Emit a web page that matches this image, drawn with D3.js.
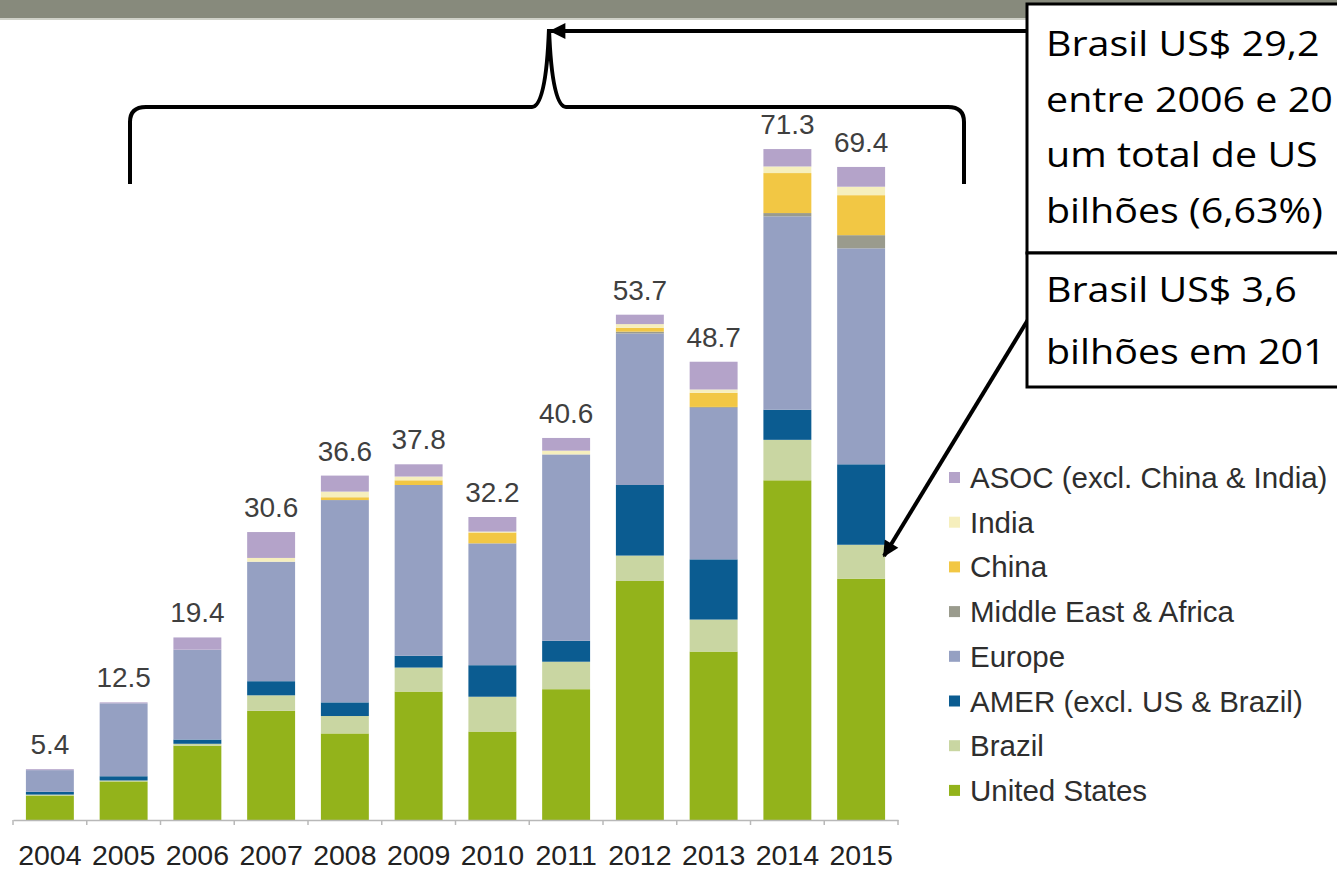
<!DOCTYPE html>
<html>
<head>
<meta charset="utf-8">
<script src="https://cdn.jsdelivr.net/npm/d3@7"></script>
<style>
  body { margin: 0; background: #fff; }
  svg { display: block; }
</style>
</head>
<body>
<div id="chart"></div>
<script>
var years = ['2004', '2005', '2006', '2007', '2008', '2009', '2010', '2011', '2012', '2013', '2014', '2015'];
var totals = [5.4, 12.5, 19.4, 30.6, 36.6, 37.8, 32.2, 40.6, 53.7, 48.7, 71.3, 69.4];

// stacked series, bottom to top (US$ bn)
var unitedStates = [2.6, 4.1, 7.9, 11.6, 9.2, 13.65, 9.4, 13.9, 25.4, 17.9, 36.1, 25.65];
var brazil       = [0.1, 0.1, 0.2, 1.65, 1.85, 2.55, 3.7, 2.92, 2.7, 3.4, 4.3, 3.6];
var amer         = [0.3, 0.45, 0.45, 1.5, 1.45, 1.25, 3.35, 2.23, 7.5, 6.4, 3.2, 8.55];
var europe       = [2.3, 7.75, 9.55, 12.7, 21.5, 18.15, 12.95, 19.8, 16.1, 16.1, 20.55, 22.95];
var middleEast   = [0, 0, 0, 0, 0, 0, 0, 0, 0.2, 0.1, 0.35, 1.4];
var china        = [0, 0, 0, 0, 0.3, 0.5, 1.15, 0, 0.4, 1.5, 4.25, 4.25];
var india        = [0, 0, 0, 0.4, 0.6, 0.4, 0.1, 0.4, 0.4, 0.35, 0.7, 0.9];
var asoc         = [0.1, 0.1, 1.3, 2.75, 1.7, 1.3, 1.55, 1.35, 1.0, 2.95, 1.85, 2.1];

var seriesKeys = ['us', 'brazil', 'amer', 'europe', 'mea', 'china', 'india', 'asoc'];
var seriesNames = ['United States', 'Brazil', 'AMER (excl. US & Brazil)', 'Europe',
  'Middle East & Africa', 'China', 'India', 'ASOC (excl. China & India)'];
var seriesColors = ['#93b31b', '#c9d6a2', '#0b5c91', '#95a0c2', '#9a9b8d', '#f2c744', '#f6efbd', '#b4a3c9'];

// note text as far as it is visible on the slide
var noteLines1 = ['Brasil US$ 29,2', 'entre 2006 e 20', 'um total de US', 'bilhões (6,63%)'];
var noteLines2 = ['Brasil US$ 3,6', 'bilhões em 201'];

var W = 1337, H = 872;
var baseY = 820;

var svg = d3.select('#chart').append('svg')
  .attr('width', W).attr('height', H);

// header strip
svg.append('rect').attr('x', 0).attr('y', 0).attr('width', W).attr('height', 18).attr('fill', '#878a7c');
svg.append('rect').attr('x', 0).attr('y', 18).attr('width', W).attr('height', 2).attr('fill', '#cfd1c8');

var seriesData = [unitedStates, brazil, amer, europe, middleEast, china, india, asoc];
var rows = years.map(function (y, i) {
  var r = { year: y };
  seriesKeys.forEach(function (k, j) { r[k] = seriesData[j][i]; });
  return r;
});

var stack = d3.stack().keys(seriesKeys)(rows);

var x = d3.scaleBand().domain(years).range([13, 898]).paddingInner(0.35).paddingOuter(0.175);
var y = d3.scaleLinear().domain([0, 80]).range([baseY, baseY - 80 * 9.41]);
var color = d3.scaleOrdinal().domain(seriesKeys).range(seriesColors);

var plot = svg.append('g');

plot.selectAll('g.layer').data(stack).enter().append('g')
  .attr('class', 'layer')
  .attr('fill', function (d) { return color(d.key); })
  .selectAll('rect').data(function (d) { return d; }).enter().append('rect')
  .attr('x', function (d) { return x(d.data.year); })
  .attr('width', x.bandwidth())
  .attr('y', function (d) { return y(d[1]); })
  .attr('height', function (d) { return y(d[0]) - y(d[1]); });

// totals above bars
plot.selectAll('text.total').data(totals).enter().append('text')
  .attr('class', 'total')
  .attr('x', function (d, i) { return x(years[i]) + x.bandwidth() / 2; })
  .attr('y', function (d) { return y(d) - 15; })
  .attr('text-anchor', 'middle')
  .style('font-family', '"Liberation Sans", Arial, sans-serif')
  .style('font-size', '28px')
  .style('fill', '#3f3f3f')
  .text(function (d) { return d.toFixed(1); });

// x axis
var xAxis = d3.axisBottom(x).tickSize(0).tickSizeOuter(0).tickPadding(25);
var axisG = svg.append('g').attr('transform', 'translate(0,' + baseY + ')').call(xAxis);
axisG.select('.domain').attr('stroke', '#b8b8b8').attr('stroke-width', 1.5);
axisG.selectAll('text')
  .style('font-family', '"Liberation Sans", Arial, sans-serif')
  .style('font-size', '28.5px')
  .style('fill', '#222');

var gap = x.step() * x.paddingInner() / 2;
var edges = years.map(function (yr) { return x(yr) - gap; });
edges.push(x(years[years.length - 1]) + x.bandwidth() + gap);
axisG.selectAll('line.edge').data(edges).enter().append('line')
  .attr('class', 'edge')
  .attr('x1', function (d) { return d; }).attr('x2', function (d) { return d; })
  .attr('y1', 0).attr('y2', 5)
  .attr('stroke', '#b8b8b8').attr('stroke-width', 1.5);

// legend (top item is ASOC)
var legendKeys = seriesKeys.slice().reverse();
var legend = svg.append('g').attr('transform', 'translate(949,478)');
var li = legend.selectAll('g').data(legendKeys).enter().append('g')
  .attr('transform', function (d, i) { return 'translate(0,' + (i * 44.7) + ')'; });
li.append('rect').attr('x', 0).attr('y', -6).attr('width', 11).attr('height', 11)
  .attr('fill', function (d) { return color(d); });
li.append('text').attr('x', 21).attr('y', 10)
  .style('font-family', '"Liberation Sans", Arial, sans-serif')
  .style('font-size', '29.5px')
  .style('fill', '#2e2e2e')
  .text(function (d) { return seriesNames[seriesKeys.indexOf(d)]; });

// brace over the 2006-2015 bars
svg.append('path')
  .attr('d', 'M130,184 L130,122 Q130,107 146,107 L532,107 Q546,107 549,29 ' +
    'Q552,107 566,107 L948,107 Q964,107 964,122 L964,184')
  .attr('fill', 'none').attr('stroke', '#000').attr('stroke-width', 4);

var defs = svg.append('defs');
defs.append('marker').attr('id', 'head')
  .attr('viewBox', '0 0 10 10').attr('refX', 9).attr('refY', 5)
  .attr('markerUnits', 'userSpaceOnUse')
  .attr('markerWidth', 18).attr('markerHeight', 16)
  .attr('orient', 'auto')
  .append('path').attr('d', 'M0,0 L10,5 L0,10 Z').attr('fill', '#000');

svg.append('line').attr('x1', 1027).attr('y1', 31).attr('x2', 551).attr('y2', 31)
  .attr('stroke', '#000').attr('stroke-width', 4).attr('marker-end', 'url(#head)');
svg.append('line').attr('x1', 1029).attr('y1', 318).attr('x2', 884).attr('y2', 556)
  .attr('stroke', '#000').attr('stroke-width', 4).attr('marker-end', 'url(#head)');

// note boxes
svg.append('rect').attr('x', 1027).attr('y', 4).attr('width', 330).attr('height', 249)
  .attr('fill', '#fff').attr('stroke', '#000').attr('stroke-width', 3);
svg.append('rect').attr('x', 1027).attr('y', 253).attr('width', 330).attr('height', 134)
  .attr('fill', '#fff').attr('stroke', '#000').attr('stroke-width', 3);

function noteText(lines, baselines) {
  var g = svg.append('g').attr('transform', 'translate(1046,0) scale(1.16,1)');
  g.selectAll('text').data(lines).enter().append('text')
    .attr('x', 0)
    .attr('y', function (d, i) { return baselines[i]; })
    .style('font-family', '"Open Sans", sans-serif')
    .style('font-size', '34px')
    .style('fill', '#000')
    .text(function (d) { return d; });
}
noteText(noteLines1, [56, 112, 167, 223]);
noteText(noteLines2, [302, 364]);
</script>
</body>
</html>
